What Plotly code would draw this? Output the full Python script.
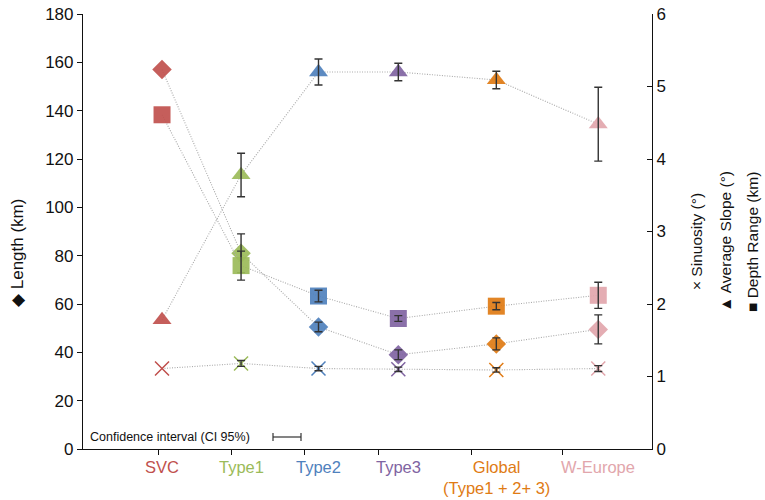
import plotly.graph_objects as go

categories = ["SVC", "Type1", "Type2", "Type3", "Global<br>(Type1 + 2+ 3)", "W-Europe"]
x_pos = [1.0, 2.0, 2.98, 3.99, 5.23, 6.52]
tick_pos = [0.95, 1.88, 2.80, 3.74, 4.91, 6.07]
colors = ["#C0504D", "#9BBB59", "#4F81BD", "#8064A2", "#E07B14", "#E2A6AC"]

length_km = [157, 81, 50.5, 39, 43.5, 49.5]
length_err = [None, 8, 2, 2, 2.5, 6]

depth_range = [4.61, 2.53, 2.11, 1.80, 1.97, 2.12]
depth_err = [None, 0.2, 0.08, 0.04, 0.05, 0.18]

slope = [1.78, 3.78, 5.20, 5.20, 5.09, 4.48]
slope_err = [None, 0.3, 0.18, 0.12, 0.12, 0.51]

sinuosity = [1.11, 1.18, 1.11, 1.10, 1.09, 1.11]
sinuosity_err = [None, 0.04, 0.03, 0.03, 0.03, 0.04]

FONT = "Liberation Sans, Arial, sans-serif"

# figure geometry (page body margin removed via post_script)
OFF = 0
W, H = 765, 500
L, T, R, B = 83, 14, 113, 51


def px_x(px):
    return (px - OFF - L) / (W - L - R)


def px_y(py):
    return (H - B - (py - OFF)) / (H - T - B)


line_style = dict(color="#a9a9a9", dash="1px,1.5px", width=1.1)
err_style = dict(color="#333333", thickness=1.4, width=4)

fig = go.Figure()

series = [
    (sinuosity, sinuosity_err, "x-thin-open", 14, "y2"),
    (slope, slope_err, "triangle-up", 16.5, "y2"),
    (depth_range, depth_err, "square", 17, "y2"),
    (length_km, length_err, "diamond", 15, "y"),
]

for vals, errs, sym, size, ax in series:
    mk = dict(symbol=sym, size=size, color=colors)
    if sym == "x-thin-open":
        mk["line"] = dict(color=colors, width=1.5)
    else:
        mk["line"] = dict(width=0)
        mk["opacity"] = 0.92
    fig.add_trace(go.Scatter(x=x_pos, y=vals, mode="lines+markers", line=line_style,
                             marker=mk, yaxis=ax, showlegend=False, hoverinfo="skip"))
    idx = [i for i, e in enumerate(errs) if e is not None]
    fig.add_trace(go.Scatter(x=[x_pos[i] for i in idx], y=[vals[i] for i in idx], mode="markers",
                             marker=dict(size=1, color="rgba(0,0,0,0)"),
                             error_y=dict(type="data", array=[errs[i] for i in idx], visible=True,
                                          **err_style),
                             yaxis=ax, showlegend=False, hoverinfo="skip"))

fig.update_layout(
    width=W, height=H,
    margin=dict(l=L, r=R, t=T, b=B, autoexpand=False),
    plot_bgcolor="white", paper_bgcolor="white",
    font=dict(family=FONT, size=17, color="#111"),
    xaxis=dict(range=[0.0, 7.2], showline=True, linecolor="#111", linewidth=1.2,
               tickvals=tick_pos, ticktext=[""] * len(tick_pos), ticks="outside",
               ticklen=5, tickcolor="#111", showgrid=False, zeroline=False),
    yaxis=dict(range=[0, 180], dtick=20, showline=True, linecolor="#111", linewidth=1.2,
               ticks="outside", ticklen=5, tickcolor="#111", showgrid=False, zeroline=False,
               tickfont=dict(size=17), automargin=False, ticklabeloverflow="allow"),
    yaxis2=dict(range=[0, 6], dtick=1, overlaying="y", side="right", showline=True,
                linecolor="#111", linewidth=1.2, ticks="inside", ticklen=5, tickcolor="#111",
                showgrid=False, zeroline=False, tickfont=dict(size=17), automargin=False,
                ticklabeloverflow="allow"),
)

# category labels
for c, xp, col in zip(categories, x_pos, colors):
    fig.add_annotation(x=xp, y=px_y(456), xref="x", yref="paper", text=c, showarrow=False,
                       xanchor="center", yanchor="top", font=dict(size=16.5, color=col, family=FONT))

# axis titles
fig.add_annotation(x=px_x(17), y=px_y(253), xref="paper", yref="paper", text="◆ Length (km)",
                   showarrow=False, textangle=-90, xanchor="center", yanchor="middle",
                   font=dict(size=17, family=FONT))
right_titles = [("× Sinuosity (°)", 697), ("▲ Average Slope (°)", 726), ("■ Depth Range (km)", 753)]
for t, xp in right_titles:
    fig.add_annotation(x=px_x(xp), y=px_y(242), xref="paper", yref="paper",
                       text=t, showarrow=False, textangle=-90, xanchor="center", yanchor="middle",
                       font=dict(size=15.5, family=FONT))

# confidence interval legend
fig.add_annotation(x=px_x(88), y=px_y(437), xref="paper", yref="paper",
                   text="Confidence interval (CI 95%)", showarrow=False, xanchor="left",
                   yanchor="middle", font=dict(size=12.5, family=FONT))
x0, x1, yc = px_x(273), px_x(301), px_y(437)
fig.add_shape(type="line", xref="paper", yref="paper", x0=x0, x1=x1, y0=yc, y1=yc,
              line=dict(color="#333", width=1.2))
for xx in (x0, x1):
    fig.add_shape(type="line", xref="paper", yref="paper", x0=xx, x1=xx,
                  y0=yc - 4 / (H - T - B), y1=yc + 4 / (H - T - B),
                  line=dict(color="#333", width=1.2))

fig.write_html("out.html", config={"displayModeBar": False},
               post_script="document.body.style.margin='0';document.body.style.overflow='hidden';")
